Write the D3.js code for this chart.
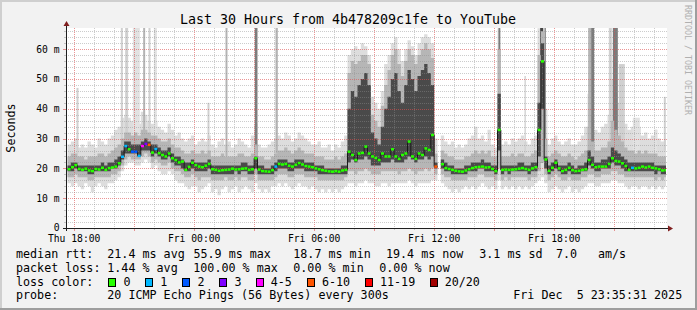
<!DOCTYPE html>
<html><head><meta charset="utf-8">
<script src="https://cdn.jsdelivr.net/npm/d3@7"></script>
<style>
html,body{margin:0;padding:0;background:#f2f2f2;}
svg{display:block;}
text{font-family:"DejaVu Sans Mono",monospace;white-space:pre;}
</style></head><body>
<svg id="chart" width="697" height="310"></svg>
<script>
// ---------------- DATA ----------------
const title = "Last 30 Hours from 4b478209c1fe to YouTube";
const startTime = "2025-12-04T17:35:31Z";
const endTime   = "2025-12-05T23:35:31Z";
const firstSample = "2025-12-04T17:40:00Z";
const stepMinutes = 10;

// median rtt (ms) per 10-minute sample
const median = [
 19.7,20.4,21.1,19.8,19.5,19.9,19.3,19.1,19.8,19.6,
 20.2,19.5,20.1,20.3,20.6,21.7,23.9,27.5,26.4,25.6,
 25.6,24.2,27.5,28.2,27.9,25.3,26.5,25.1,24.5,24.0,
 25.0,23.4,22.8,22.0,22.3,19.5,20.5,21.9,21.1,20.6,
 20.4,20.9,21.5,19.7,19.5,19.2,19.4,19.5,19.6,19.9,
 19.6,19.7,19.9,20.0,19.5,19.7,23.4,19.6,19.1,19.0,
 18.9,19.4,20.6,21.5,21.3,21.5,20.9,20.6,21.2,21.8,
 21.3,20.8,20.6,20.4,20.0,19.7,19.4,19.2,19.0,18.9,
 19.1,18.9,19.3,19.5,25.6,24.5,22.8,25.0,25.2,27.3,
 25.0,24.0,23.5,22.8,25.0,24.0,24.0,26.4,24.0,23.2,
 24.5,25.0,29.0,24.0,23.2,25.0,24.5,26.7,26.2,31.2,
 20.6,null,21.4,20.1,19.8,19.5,19.2,19.0,18.9,19.3,
 19.7,20.1,20.4,20.5,20.6,20.3,20.4,19.8,19.1,32.9,
 19.5,19.6,19.5,19.6,19.7,19.9,20.1,19.8,19.5,20.0,
 20.4,32.9,55.9,23.0,19.2,20.2,21.9,20.0,19.1,19.5,
 20.2,19.4,19.1,19.2,19.5,19.7,22.8,21.2,20.4,20.6,
 20.6,20.6,21.5,23.4,22.5,22.3,21.7,20.8,19.5,20.2,
 20.0,20.2,20.6,20.3,20.6,20.2,20.0,19.7,19.3,19.4];

// smoke: fastest ping .. slowest ping per sample (ms)
const pingMin = [
 15,14,15,14,13,15,14,12,14,15, 14,13,15,15,16,17,19,21,22,22,
 21,21,22,23,22,20,21,19,18,18, 19,18,16,15,15,14,13,14,14,12,
 13,14,15,12,13,11,13,14,12,13, 14,12,13,14,13,12,15,13,12,13,
 12,14,14,15,14,15,14,13,14,15, 14,14,13,14,13,12,13,12,13,12,
 13,12,13,14,15,15,14,15,15,16, 15,15,14,14,15,15,14,15,15,15,
 15,15,16,15,14,15,15,15,15,16, 16,null,15,14,13,12,13,12,13,14,
 13,14,13,14,15,14,13,14,13,16, 13,14,13,14,13,14,13,14,13,14,
 15,16,17,15,12,13,14,13,12,13, 14,12,13,12,13,14,15,15,14,14,
 15,15,15,16,16,15,15,14,13,14, 14,13,14,14,13,14,13,14,13,14];
const ping15 = [
 17,17,18,17,17,17,16,16,17,17, 17,17,17,18,18,19,21,23,24,23,
 23,23,24,25,24,22,23,22,21,21, 22,20,19,19,18,17,17,18,17,16,
 17,17,17,16,16,16,16,17,16,16, 17,16,17,17,16,16,18,16,16,16,
 16,16,17,18,18,18,17,17,18,18, 18,17,17,17,17,16,16,16,16,16,
 16,16,16,17,19,19,18,19,19,20, 19,18,18,18,19,19,19,19,19,18,
 19,19,20,19,18,19,19,20,19,20, 18,null,18,17,17,16,16,16,16,16,
 17,17,17,18,18,17,17,17,16,20, 16,17,16,17,17,17,17,17,16,17,
 17,19,22,18,16,17,18,17,16,16, 17,16,16,16,17,17,18,18,17,17,
 18,18,18,19,19,18,18,17,17,17, 17,17,17,17,17,17,16,17,16,17];
const ping35 = [
 19,19,20,19,19,19,18,18,19,19, 19,19,19,20,20,21,23,25,25,25,
 25,24,26,26,26,24,25,24,23,23, 24,22,21,21,20,19,19,20,19,19,
 19,19,20,18,18,18,18,18,18,18, 19,18,19,19,18,18,20,18,18,18,
 18,18,19,20,20,20,19,19,20,20, 20,19,19,19,19,18,18,18,18,18,
 18,18,18,18,22,23,22,23,23,24, 23,21,21,21,22,22,22,23,22,22,
 22,23,24,23,22,23,23,24,23,24, 20,null,20,19,19,18,18,18,18,18,
 19,19,19,20,20,19,19,19,18,26, 18,19,18,19,19,19,19,19,18,19,
 19,24,40,20,18,19,20,19,18,18, 19,18,18,18,19,19,21,20,19,19,
 20,20,20,22,21,21,20,19,19,19, 19,19,19,19,19,19,18,19,18,18];
const ping65 = [
 21,22,22,21,21,21,21,21,21,21, 22,21,22,22,23,24,26,29,29,28,
 28,28,29,30,29,28,28,27,26,26, 27,25,24,24,23,22,22,23,22,22,
 22,22,23,21,21,21,21,21,21,21, 21,21,22,22,21,21,24,21,21,20,
 20,21,22,23,23,23,22,22,23,23, 23,22,22,22,21,21,21,20,20,20,
 20,20,21,21,40,46,44,48,50,52, 48,32,30,28,34,40,44,50,52,46,
 42,48,53,50,46,51,53,55,52,48, 22,null,23,22,21,21,20,20,20,21,
 21,22,22,22,23,22,22,21,21,45, 21,21,21,21,21,22,22,21,21,22,
 22,42,62,24,21,22,23,21,21,21, 22,21,20,21,21,22,26,24,22,22,
 23,23,24,27,26,25,24,23,22,22, 22,22,22,22,22,22,21,21,21,21];
const ping85 = [
 24,25,25,24,24,23,24,24,24,25, 25,24,25,26,27,28,30,32,32,31,
 32,31,33,33,32,31,31,30,29,29, 30,28,27,27,26,25,25,26,25,25,
 26,25,26,24,24,24,25,24,24,24, 24,25,25,24,24,25,28,24,24,23,
 23,24,25,26,26,27,26,25,26,27, 26,25,25,25,24,24,24,23,23,23,
 24,23,24,25,52,56,55,56,58,58, 55,38,36,34,41,48,53,58,60,55,
 51,56,60,58,55,58,60,62,60,57, 25,null,26,25,24,24,23,23,23,24,
 24,25,26,25,26,25,26,24,24,60, 24,24,24,25,24,25,25,24,24,25,
 26,58,66,30,24,25,26,25,24,24, 25,24,23,24,25,26,34,29,26,26,
 27,27,29,36,33,31,29,27,26,26, 25,26,25,26,25,25,25,24,24,24];
const pingMax = [
 28,29,30,27,28,27,29,28,27,30, 29,28,30,31,33,34,37,38,37,36,
 38,35,39,38,36,35,36,34,33,32, 35,33,31,32,30,29,30,31,28,29,
 30,29,31,28,27,29,30,28,29,27, 28,30,29,28,27,31,35,28,27,27,
 28,29,30,31,30,32,31,29,30,32, 31,30,29,28,28,29,27,27,28,26,
 28,27,29,31,58,60,61,60,62,61, 58,44,42,40,46,55,58,62,64,60,
 56,60,63,61,58,62,64,65,64,62, 30,null,31,29,28,29,27,28,27,28,
 30,31,34,30,31,29,33,28,27,67, 28,29,28,30,29,30,31,29,28,30,
 31,67,67,40,28,30,31,29,28,29, 30,28,28,29,31,34,45,38,33,32,
 34,35,38,50,45,42,38,35,33,34, 32,34,31,32,30,31,33,30,29,30];

// samples with packet loss: [sample index, pings lost of 20]
const lossSamples = [[16,1],[17,1],[19,2],[20,2],[21,1],[22,4],[23,3],[24,7],[26,1],[62,1],[110,8],[169,1]];

// short bursts of slow pings (smoke spikes)
const spikeTimes = ["2025-12-04T18:07:00Z","2025-12-04T20:20:00Z","2025-12-04T20:33:00Z","2025-12-04T20:56:00Z",
 "2025-12-04T21:27:00Z","2025-12-04T21:43:00Z","2025-12-04T21:59:00Z","2025-12-05T00:40:00Z",
 "2025-12-05T01:34:00Z","2025-12-05T03:02:00Z","2025-12-05T04:04:00Z","2025-12-05T15:13:00Z",
 "2025-12-05T16:31:00Z","2025-12-05T17:18:00Z","2025-12-05T17:31:00Z","2025-12-05T19:42:00Z",
 "2025-12-05T19:51:00Z","2025-12-05T20:44:00Z","2025-12-05T20:56:00Z","2025-12-05T21:14:00Z",
 "2025-12-05T21:56:00Z","2025-12-05T23:02:00Z","2025-12-05T23:29:00Z"];
const spikeMinutes = [6,6,9,21,6,6,9,6,6,8,7,5,4,9,4,9,9,9,15,18,21,6,6];
const spikeLow  = [25,30,30,31,30,30,30,25,24,22,25,24,25,22,25,26,26,26,24,26,25,25,26];
const spikeHigh = [47,67.1,67.1,67.1,67.1,67.1,67.1,42,67.1,67.1,67.1,67.1,51,67.1,67.1,67.1,67.1,67.1,67.1,55,37,33,44];
const spikeLevel = [2,2,2,1,3,2,1,2,3,4,3,4,2,5,4,3,4,2,4,2,1,1,2];

const yTicks = [0,10,20,30,40,50,60];
const yTickLabels = ["0","10 m","20 m","30 m","40 m","50 m","60 m"];
const yMax = 67.1;

const legendRows = [
 [["median rtt:",16],["21.4 ms avg",107.3],["55.9 ms max",193.5],["18.7 ms min",293.3],["19.4 ms now",386],["3.1 ms sd",479.3],["7.0",556],["am/s",598]],
 [["packet loss:",16],["1.44 % avg",107.3],["100.00 % max",193.3],["0.00 % min",293.3],["0.00 % now",379.3]],
 [["loss color:",16]],
 [["probe:",16],["20 ICMP Echo Pings (56 Bytes) every 300s",107.3],["Fri Dec  5 23:35:31 2025",513.3]]
];
const lossLabels = ["0","1","2","3","4-5","6-10","11-19","20/20"];
const lossColors = ["#26ff00","#00b8ff","#0059ff","#7e00ff","#ff00ff","#ff5500","#ff0000","#a10000"];
const lossBoxX = [108.5,145.5,182.5,219.5,256.5,307.5,365.5,430.5];
const lossLabelX = [123.5,160.3,197.5,234.5,270.8,322,380,444.7];

// ---------------- DRAW ----------------
const W=697,H=310, L=66, R=666, T=28, B=228;
const svg = d3.select("#chart");
const parse = d3.utcParse("%Y-%m-%dT%H:%M:%SZ");
const x = d3.scaleUtc().domain([parse(startTime), parse(endTime)]).range([L,R]);
const y = d3.scaleLinear().domain([0,yMax]).range([B,T]);
const step = stepMinutes*60000;
const t0 = parse(firstSample);
const times = median.map((_,i)=>new Date(+t0 + i*step));

// frame
svg.append("rect").attr("width",W).attr("height",H).attr("fill","#f2f2f2");
svg.append("rect").attr("x",0).attr("y",0).attr("width",W).attr("height",2).attr("fill","#cfcfcf");
svg.append("rect").attr("x",0).attr("y",0).attr("width",2).attr("height",H).attr("fill","#cfcfcf");
svg.append("rect").attr("x",0).attr("y",H-2).attr("width",W).attr("height",2).attr("fill","#9e9e9e");
svg.append("rect").attr("x",W-2).attr("y",0).attr("width",2).attr("height",H).attr("fill","#9e9e9e");
svg.append("rect").attr("x",L).attr("y",T).attr("width",R-L+1).attr("height",B-T).attr("fill","#fff");

svg.append("defs").append("clipPath").attr("id","plot").append("rect")
  .attr("x",L).attr("y",T).attr("width",R-L).attr("height",B-T);
const g = svg.append("g").attr("clip-path","url(#plot)");

function stepData(lowArr, highArr){
  const pts=[];
  for(let i=0;i<times.length;i++){
    const lo=lowArr[i], hi=highArr[i];
    if(lo==null||hi==null){pts.push(null);continue;}
    pts.push({t:times[i],lo,hi});
    const nd = i+1<times.length && lowArr[i+1]!=null && highArr[i+1]!=null;
    if(!nd) pts.push({t:new Date(+times[i]+step),lo,hi});
  }
  return pts;
}
const area = d3.area().defined(d=>d!=null).x(d=>x(d.t)).y0(d=>y(d.lo)).y1(d=>y(d.hi)).curve(d3.curveStepAfter);

const shade = {1:"#e2e2e2",2:"#d0d0d0",3:"#b4b4b4",4:"#7c7c7c",5:"#444444"};
g.append("path").attr("d",area(stepData(pingMin,pingMax))).attr("fill","#dddddd");
spikeTimes.forEach((s,i)=>{
  const ts=parse(s);
  g.append("rect").attr("x",x(ts)).attr("width",x(new Date(+ts+spikeMinutes[i]*60000))-x(ts))
   .attr("y",y(spikeHigh[i])).attr("height",y(spikeLow[i])-y(spikeHigh[i])).attr("fill",shade[spikeLevel[i]]);
});
g.append("path").attr("d",area(stepData(ping15,ping85))).attr("fill","#b6b6b6");
g.append("path").attr("d",area(stepData(ping35,ping65))).attr("fill","#4a4a4a");

// grid
const gridG = svg.append("g");
const minorCol="rgba(143,143,143,0.45)", majorCol="rgba(222,79,79,0.6)";
const hours = d3.utcHour.range(x.domain()[0], x.domain()[1]);
hours.forEach(h=>{
  const xx=Math.round(x(h))+0.5, major = h.getUTCHours()%3===0;
  gridG.append("line").attr("x1",xx).attr("x2",xx).attr("y1",T).attr("y2",B)
    .attr("stroke",major?majorCol:minorCol).attr("stroke-dasharray","1,1");
  gridG.append("line").attr("x1",xx).attr("x2",xx).attr("y1",B).attr("y2",B+(major?3:2))
    .attr("stroke",major?majorCol:minorCol);
});
d3.range(2,yMax,2).forEach(v=>{
  const yy=Math.round(y(v))+0.5, major=v%10===0;
  gridG.append("line").attr("x1",L).attr("x2",R+1).attr("y1",yy).attr("y2",yy)
    .attr("stroke",major?majorCol:minorCol).attr("stroke-dasharray","1,1");
  gridG.append("line").attr("x1",L-(major?3:2)).attr("x2",L).attr("y1",yy).attr("y2",yy)
    .attr("stroke",major?majorCol:minorCol);
});

// median
const medPts=[];
median.forEach((m,i)=>{
  if(m==null){medPts.push(null);return;}
  medPts.push({t:times[i],v:m});
  if(i+1>=median.length||median[i+1]==null) medPts.push({t:new Date(+times[i]+step),v:m});
});
const mg = svg.append("g").attr("clip-path","url(#plot)");
mg.append("path").attr("d",d3.line().defined(d=>d!=null).x(d=>x(d.t)).y(d=>y(d.v)).curve(d3.curveStepAfter)(medPts))
  .attr("fill","none").attr("stroke","#1a1a1a").attr("stroke-width",1);
const lossMap = new Map(lossSamples);
function lossClass(n){return n===0?0:n===1?1:n===2?2:n===3?3:n<=5?4:n<=10?5:n<20?6:7;}
median.forEach((m,i)=>{
  if(m==null) return;
  const cx = x(new Date(+times[i]+step/2));
  mg.append("rect").attr("x",cx-1.5).attr("y",y(m)-1.25).attr("width",3).attr("height",2.5)
    .attr("fill",lossColors[lossClass(lossMap.get(i)||0)]);
});

// axes
const axisCol="#1f1f1f", arrowCol="#801f1f";
svg.append("line").attr("x1",L-3).attr("x2",R+2).attr("y1",B+0.5).attr("y2",B+0.5).attr("stroke",axisCol);
svg.append("line").attr("x1",L+0.5).attr("x2",L+0.5).attr("y1",B+3).attr("y2",T-2).attr("stroke",axisCol);
svg.append("path").attr("d",`M${R+2},${B-2.5}L${R+7},${B+0.5}L${R+2},${B+3.5}Z`).attr("fill",arrowCol);
svg.append("path").attr("d",`M${L-2.5},${T-2}L${L+0.5},${T-7}L${L+3.5},${T-2}Z`).attr("fill",arrowCol);

// labels
const axisFont="9.7px";
yTicks.forEach((v,i)=>{
  svg.append("text").attr("x",59.5).attr("y",y(v)).attr("dy","0.36em").attr("text-anchor","end")
    .attr("font-size",axisFont).attr("fill","#000").text(yTickLabels[i]);
});
const fmt = d3.utcFormat("%a %H:%M");
d3.utcHour.every(6).range(x.domain()[0], x.domain()[1]).forEach(h=>{
  svg.append("text").attr("x",x(h)).attr("y",242).attr("text-anchor","middle")
    .attr("font-size",axisFont).attr("fill","#000").text(fmt(h));
});
svg.append("text").attr("x",348).attr("y",24).attr("text-anchor","middle").attr("font-size","13.3px").attr("fill","#000").text(title);
svg.append("text").attr("transform","translate(14.7,128) rotate(-90)").attr("text-anchor","middle")
  .attr("font-size","11.7px").attr("fill","#000").text("Seconds");
svg.append("text").attr("transform","translate(684.7,5) rotate(90)").attr("font-size","8.3px")
  .attr("fill","#b0b0b0").text("RRDTOOL / TOBI OETIKER");

// legend
const rowY=[258.4,272,285.6,299.2];
legendRows.forEach((row,r)=>{
  row.forEach(([s,xx])=>{
    svg.append("text").attr("x",xx).attr("y",rowY[r]).attr("font-size","11.7px").attr("fill","#000").text(s);
  });
});
lossLabels.forEach((lab,i)=>{
  svg.append("rect").attr("x",lossBoxX[i]).attr("y",278.5).attr("width",7).attr("height",8)
    .attr("fill",lossColors[i]).attr("stroke","#000").attr("stroke-width",1);
  svg.append("text").attr("x",lossLabelX[i]).attr("y",rowY[2]).attr("font-size","11.7px").attr("fill","#000").text(lab);
});
</script>
</body></html>
